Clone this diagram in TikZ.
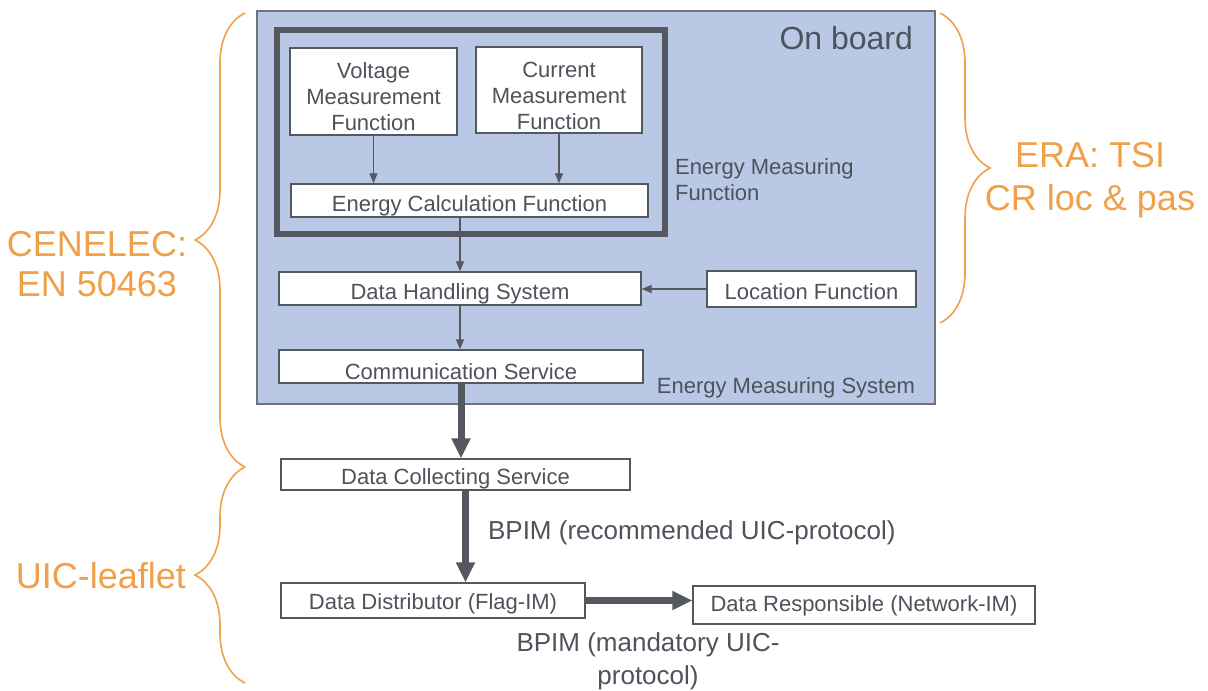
\documentclass[tikz,border=0pt]{standalone}
\usepackage{fontspec}
\setmainfont{Liberation Sans}
\usetikzlibrary{arrows.meta,positioning,fit,decorations.pathreplacing}
\definecolor{boardblue}{HTML}{B8C8E5}
\definecolor{framegray}{HTML}{55585F}
\definecolor{inkgray}{HTML}{4D525B}
\definecolor{edgegray}{HTML}{707378}
\definecolor{normorange}{HTML}{F0A048}

\begin{document}
\begin{tikzpicture}[x=0.5pt,y=-0.5pt, font=\fontsize{11}{13}\selectfont, text=inkgray,
 box/.style={draw=framegray,fill=white,line width=0.7pt,align=center,inner sep=0pt,execute at begin node={\rule{0pt}{#1}}},
 box/.default=13.5pt,
 arr/.style={-{Triangle[length=5pt,width=4pt]},line width=0.6pt,draw=framegray},
 bigarr/.style={-{Triangle[length=10pt,width=9pt]},line width=3.5pt,draw=framegray},
 norm/.style={decorate,decoration={brace,amplitude=25pt},draw=normorange,line width=0.8pt},
 normlabel/.style={text=normorange,font=\fontsize{18}{20}\selectfont,align=center}]
\useasboundingbox (0,0) rectangle (1208,690);
% on board
\node[draw=edgegray,fill=boardblue,line width=0.8pt,inner sep=0pt,fit={(257,11) (935,404)}] (ems) {};
\node[anchor=east,font=\fontsize{16}{18}\selectfont] (onboard) at (920,38) {On board};
\node[anchor=east] (emslabel) at (922,388) {Energy Measuring System};
\node[draw=framegray,line width=2.6pt,inner sep=0pt,fit={(277,30) (665,234)}] (emf) {};
\node[anchor=west,align=left] (emflabel) at (668,180) {Energy Measuring\\Function};
\node[box=0pt,minimum width=83.5pt,minimum height=43.5pt] (volt) at (373.5,91.5) {\rule{0pt}{13.5pt}Voltage\\Measurement\\Function};
\node[box=0pt,minimum width=83pt,minimum height=43pt] (curr) at (559,90) {\rule{0pt}{13.5pt}Current\\Measurement\\Function};
\node[box,minimum width=178.5pt,minimum height=16.5pt] (calc) at (469.5,200.5) {Energy Calculation Function};
\node[box,minimum width=181pt,minimum height=16.5pt] (dhs) at (460,288.5) {Data Handling System};
\node[box=11pt,minimum width=104.5pt,minimum height=18pt] (loc) at (811.5,289) {Location Function};
\node[box,minimum width=182pt,minimum height=16.5pt] (comm) at (461,366.5) {Communication Service};
\draw[arr] (volt.south) -- (volt.south |- calc.north);
\draw[arr] (curr.south) -- (curr.south |- calc.north);
\draw[arr] (calc.south -| dhs.north) -- (dhs.north);
\draw[arr] (loc.west) -- (loc.west -| dhs.east);
\draw[arr] (dhs.south) -- (dhs.south |- comm.north);
% off board
\node[box=12pt,minimum width=174.5pt,minimum height=15.5pt] (dcs) at (455.5,474.5) {Data Collecting Service};
\node[box=11pt,minimum width=152pt,minimum height=17.5pt] (dist) at (433,600.5) {Data Distributor (Flag-IM)};
\node[box=9pt,minimum width=171pt,minimum height=19pt] (resp) at (864,605) {Data Responsible (Network-IM)};
\draw[bigarr] (comm.south) -- (comm.south |- dcs.north);
\draw[bigarr] ([xshift=5pt]dcs.south) -- ([xshift=5pt]dcs.south |- dist.north);
\draw[bigarr] (dist.east) -- (dist.east -| resp.west);
\node[anchor=west,font=\fontsize{13}{16}\selectfont] (bpimrec) at (481,533) {BPIM (recommended UIC-protocol)};
\node[align=center,font=\fontsize{13}{16.5}\selectfont] (bpimman) at (648,661) {BPIM (mandatory UIC-\\protocol)};
% norms
\coordinate (cenTop) at (245,13); \coordinate (cenBot) at (245,467); \coordinate (uicBot) at (245,683);
\coordinate (eraTop) at (940,13); \coordinate (eraBot) at (940,323);
\draw[norm] (cenBot) -- (cenTop);
\draw[norm] (uicBot) -- (cenBot);
\draw[norm] (eraTop) -- (eraBot);
\node[normlabel] (cenelec) at (97,264) {CENELEC:\\EN 50463};
\node[normlabel] (uic) at (101,576) {UIC-leaflet};
\node[normlabel,font=\fontsize{18}{21.5}\selectfont] (era) at (1090,180) {ERA: TSI\\CR loc \& pas};
\end{tikzpicture}
\end{document}
